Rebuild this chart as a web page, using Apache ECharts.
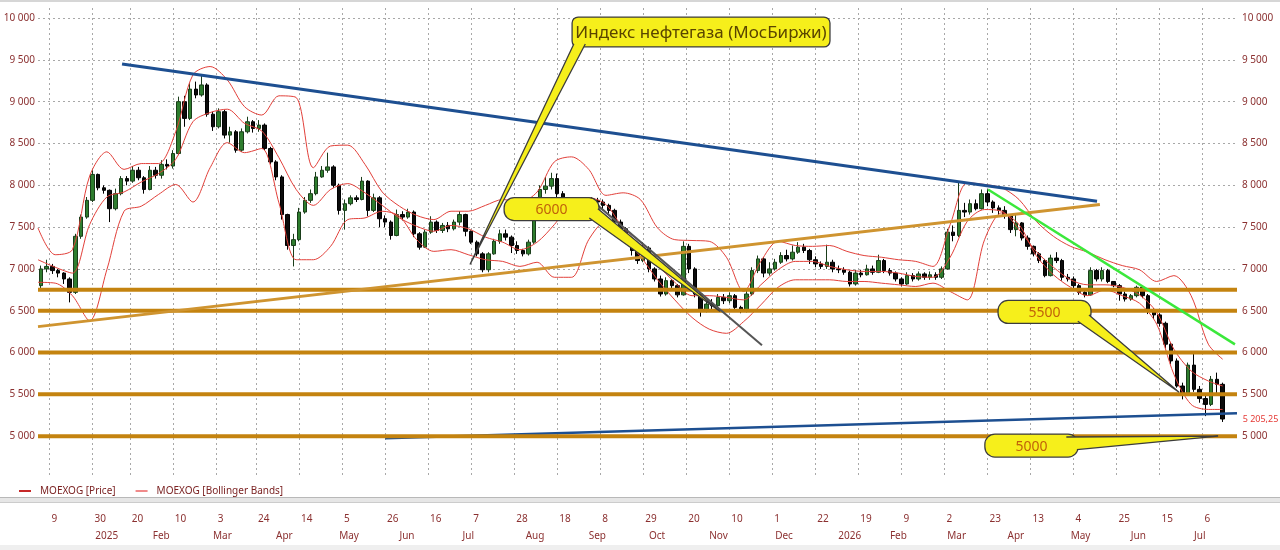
<!DOCTYPE html>
<html><head><meta charset="utf-8">
<script src="https://cdn.jsdelivr.net/npm/echarts@6/dist/echarts.min.js"></script>
<style>html,body{margin:0;padding:0;background:#fff}#c{width:1280px;height:550px}</style>
</head><body><div id="c"></div>
<script>
const FONT = '"Noto Sans", "Open Sans", sans-serif';
const LABEL_COLOR = '#8b3030';
const BAR_SLOTS = 419; // trading-day slots 0..418

// x-axis tick labels (trading-day slot index -> label)
const dayTickIdx = [4,19,32,47,62,76,91,106,121,136,151,166,181,196,211,226,241,256,271,286,301,316,331,346,361,376,391,406];
const dayTickLabels = ['9','30','20','10','3','24','14','5','26','16','7','28','18','8','29','20','10','1','22','19','9','2','23','13','4','25','15','6'];
const monthIdx = [20,40,61,83,105,126,148,170,192,213,234,257,279,297,317,338,360,381,403];
const monthLabels = ['2025','Feb','Mar','Apr','May','Jun','Jul','Aug','Sep','Oct','Nov','Dec','2026','Feb','Mar','Apr','May','Jun','Jul'];

// candles: [slot, open, close, low, high]
const candles = [
[1,6800,7000,6760,7040],[3,7000,7030,6960,7110],[5,7030,6980,6940,7060],[7,6980,6950,6900,7000],[9,6950,6880,6820,6960],[11,6880,6720,6600,6900],[13,6720,7390,6700,7420],[15,7390,7620,7360,7650],[17,7620,7820,7600,7860],[19,7820,8130,7800,8180],
[21,8130,7970,7940,8140],[23,7970,7940,7900,8000],[25,7940,7720,7560,7950],[27,7720,7900,7700,7960],[29,7900,8080,7880,8110],[31,8080,8050,8000,8110],[33,8050,8180,8030,8230],[35,8180,8090,8060,8220],[37,8090,7950,7900,8110],[39,7950,8180,7940,8230],
[41,8180,8120,8080,8220],[43,8120,8250,8080,8300],[45,8250,8230,8190,8310],[47,8230,8380,8200,8420],[49,8380,9000,8360,9060],[51,9000,8800,8700,9070],[53,8800,9150,8780,9220],[55,9150,9080,9040,9240],[57,9080,9200,9060,9320],[59,9200,8850,8820,9220],
[61,8850,8700,8650,8880],[63,8700,8880,8680,8920],[65,8880,8600,8560,8900],[67,8600,8640,8510,8700],[69,8640,8420,8390,8660],[71,8420,8640,8400,8680],[73,8640,8760,8620,8820],[75,8760,8680,8630,8780],[77,8680,8720,8640,8780],[79,8720,8440,8420,8740],
[81,8440,8280,8250,8460],[83,8280,8100,8060,8300],[85,8100,7650,7590,8120],[87,7650,7280,7230,7660],[89,7280,7350,7030,7420],[91,7350,7680,7330,7730],[93,7680,7820,7660,7860],[95,7820,7900,7790,7950],[97,7900,8100,7880,8160],[99,8100,8180,8090,8230],
[101,8180,8220,8150,8390],[103,8220,8000,7970,8240],[105,8000,7700,7650,8020],[107,7700,7780,7470,7830],[109,7780,7850,7760,7880],[111,7850,7830,7800,7880],[113,7830,8050,7820,8100],[115,8050,7700,7630,8060],[117,7700,7850,7680,7900],[119,7850,7600,7500,7870],
[121,7600,7560,7500,7640],[123,7560,7400,7350,7580],[125,7400,7650,7390,7710],[127,7650,7620,7580,7690],[129,7620,7680,7600,7720],[131,7680,7420,7380,7700],[133,7420,7260,7230,7440],[135,7260,7440,7250,7470],[137,7440,7560,7420,7630],[139,7560,7460,7430,7580],
[141,7460,7520,7430,7550],[143,7520,7480,7440,7560],[145,7480,7560,7460,7590],[147,7560,7650,7520,7690],[149,7650,7450,7390,7660],[151,7450,7320,7300,7460],[153,7320,7180,7150,7340],[155,7180,6990,6960,7200],[157,6990,7180,6960,7200],[159,7180,7330,7170,7360],
[161,7330,7420,7300,7470],[163,7420,7380,7340,7470],[165,7380,7280,7190,7400],[167,7280,7220,7180,7330],[169,7220,7180,7150,7240],[171,7180,7320,7160,7350],[173,7320,7600,7300,7620],[175,7600,7950,7580,8000],[177,7950,7990,7900,8100],[179,7990,8080,7950,8150],
[181,8080,7900,7860,8140],[183,7900,7830,7780,7930],[185,7830,7760,7700,7850],[187,7760,7700,7620,7790],[189,7700,7740,7650,7800],[191,7740,7780,7700,7830],[193,7780,7820,7760,7860],[195,7820,7800,7760,7850],[197,7800,7760,7700,7830],[199,7760,7700,7660,7780],
[201,7700,7560,7520,7720],[203,7560,7480,7440,7590],[205,7480,7340,7300,7500],[207,7340,7220,7160,7360],[209,7220,7100,7060,7240],[211,7100,7250,7080,7320],[213,7250,7000,6960,7270],[215,7000,6880,6850,7020],[217,6880,6700,6670,6920],[219,6700,6860,6680,6900],
[221,6860,6800,6770,6880],[223,6800,6690,6660,6820],[225,6690,7270,6680,7330],[227,7270,7000,6950,7300],[229,7000,6700,6660,7020],[231,6700,6500,6430,6720],[233,6500,6580,6480,6620],[235,6580,6560,6520,6640],[237,6560,6660,6540,6700],[239,6660,6620,6580,6700],
[241,6620,6680,6590,6720],[243,6680,6540,6500,6700],[245,6540,6500,6470,6560],[247,6500,6700,6480,6740],[249,6700,6980,6680,7020],[251,6980,7120,6950,7160],[253,7120,6950,6900,7140],[255,6950,7000,6920,7080],[257,7000,7080,6980,7120],[259,7080,7160,7060,7200],
[261,7160,7120,7090,7230],[263,7120,7200,7100,7280],[265,7200,7260,7180,7320],[267,7260,7220,7190,7300],[269,7220,7110,7060,7240],[271,7110,7060,7020,7150],[273,7060,7030,7000,7090],[275,7030,7080,7000,7290],[277,7080,7000,6960,7110],[279,7000,6990,6950,7040],
[281,6990,6960,6930,7020],[283,6960,6820,6790,6980],[285,6820,6950,6800,6990],[287,6950,6930,6900,6990],[289,6930,7000,6920,7050],[291,7000,6960,6930,7040],[293,6960,7100,6950,7170],[295,7100,6980,6950,7120],[297,6980,6950,6920,7010],[299,6950,6880,6850,6970],
[301,6880,6820,6790,6900],[303,6820,6920,6810,6960],[305,6920,6880,6850,6950],[307,6880,6940,6860,6970],[309,6940,6900,6870,6960],[311,6900,6930,6870,6970],[313,6930,6900,6870,6960],[315,6900,7000,6880,7030],[317,7000,7440,6990,7480],[319,7440,7400,7330,7520],
[321,7400,7700,7380,8030],[323,7700,7680,7620,7790],[325,7680,7780,7650,7830],[327,7780,7720,7700,7830],[329,7720,7900,7710,7950],[331,7900,7800,7750,7950],[333,7800,7730,7670,7820],[335,7730,7700,7640,7760],[337,7700,7640,7600,7750],[339,7640,7470,7430,7650],
[341,7470,7550,7390,7660],[343,7550,7370,7340,7560],[345,7370,7270,7230,7400],[347,7270,7180,7150,7280],[349,7180,7100,7070,7200],[351,7100,6920,6900,7120],[353,6920,7130,6910,7170],[355,7130,7100,7070,7200],[357,7100,6900,6860,7120],[359,6900,6880,6850,6940],
[361,6880,6800,6760,6910],[363,6800,6720,6690,6820],[365,6720,6690,6660,6750],[367,6690,6980,6680,7020],[369,6980,6880,6850,7000],[371,6880,6980,6850,7020],[373,6980,6850,6830,7000],[375,6850,6800,6780,6850],[377,6800,6700,6620,6820],[379,6700,6640,6610,6730],
[381,6640,6680,6620,6700],[383,6680,6780,6660,6800],[385,6780,6680,6650,6800],[387,6680,6500,6460,6700],[389,6500,6450,6400,6530],[391,6450,6350,6310,6470],[393,6350,6100,6050,6370],[395,6100,5900,5860,6120],[397,5900,5600,5580,5930],[399,5600,5500,5440,5640],
[401,5500,5850,5480,5880],[403,5850,5560,5530,6000],[405,5560,5450,5400,5600],[407,5450,5380,5240,5500],[409,5380,5680,5360,5720],[411,5680,5620,5500,5760],[413,5620,5205.25,5170,5640]
];
const lastPrice = 5205.25;

// Bollinger bands sampled every 6 slots
const bandX = [0,6,12,18,24,30,36,42,48,54,60,66,72,78,84,90,96,102,108,114,120,126,132,138,144,150,156,162,168,174,180,186,192,198,204,210,216,222,228,234,240,246,252,258,264,270,276,282,288,294,300,306,312,318,324,330,336,342,348,354,360,366,372,378,384,390,396,402,408,413];
const bbUpper = [7490,7170,7230,8110,8400,8190,8260,8260,8640,9320, 9420,9260,8940,8840,9070,9050,8210,8470,8480,8250, 7920,7750,7640,7590,7690,7690,7760,7830,7800,7920, 8280,8340,8190,7880,7910,7830,7490,7350,7340,7330, 7140,6730,7090,7330,7280,7270,7280,7210,7160,7140, 7110,7090,7030,7530,8030,8010,7970,7830,7570,7390, 7270,7200,7110,7040,6990,6850,6920,6680,6100,5920];
const bbMiddle = [7110,7020,6950,7530,7860,7920,8040,8140,8310,8760, 8870,8910,8740,8650,8330,7950,7760,7950,8020,7910, 7760,7610,7510,7450,7520,7480,7380,7320,7230,7320, 7530,7780,7850,7770,7490,7320,7050,6840,6680,6680, 6660,6630,6810,6990,7090,7090,7030,6990,6970,6970, 6950,6910,6900,7140,7570,7710,7690,7470,7210,7020, 6870,6810,6810,6780,6690,6480,6040,5780,5660,5600];
const bbLower = [6840,6830,6680,6380,6990,7690,7750,7890,8010,7800, 8210,8510,8390,8440,7790,7110,7110,7270,7590,7610, 7690,7630,7350,7210,7230,7170,7110,7090,7030,7080, 6900,6900,7350,7570,7370,7150,6870,6630,6420,6280, 6230,6370,6570,6780,6870,6870,6870,6850,6850,6830, 6810,6790,6830,6730,6630,7350,7670,7530,7160,6930, 6780,6680,6750,6680,6590,6340,5740,5380,5320,5320];

// horizontal support levels
const levels = [6750, 6500, 6000, 5500, 5000];
// trend lines [[slot, value], [slot, value]]
const trendBlueTop = [[29.3, 9450], [369.2, 7810]];
const trendBlueBottom = [[121, 4976], [418, 5274]];
const trendOrange = [[0, 6310], [370.2, 7770]];
const trendGreen = [[331.2, 7950], [417.3, 6098]];
const trendGray = [[195.2, 7757], [252.4, 6086]];

// callouts: box [x1,y1,x2,y2], wedge [baseA, baseB, tip]
const callouts = [
  {text: 'Индекс нефтегаза (МосБиржи)', box: [186.2, 10012, 276.1, 9654], wedge: [[186.8, 9690], [190.8, 9690], [150.6, 7053]], size: 17, color: '#5a4500', r: 6},
  {text: '6000', box: [162.5, 7852, 195.6, 7578], wedge: [[192.2, 7610], [195.2, 7720], [237.8, 6492]], size: 14, color: '#c0620a', r: 10},
  {text: '5500', box: [334.7, 6623, 367.1, 6349], wedge: [[362.5, 6375], [366.4, 6450], [397.8, 5525]], size: 14, color: '#c0620a', r: 10},
  {text: '5000', box: [330.1, 5024, 362.6, 4750], wedge: [[358.5, 4990], [362.2, 4840], [411.4, 5000]], size: 14, color: '#c0620a', r: 10}
];

const dayMap = {}; dayTickIdx.forEach((k, i) => dayMap[k] = dayTickLabels[i]);
const monMap = {}; monthIdx.forEach((k, i) => monMap[k] = monthLabels[i]);
const slotCats = Array.from({length: BAR_SLOTS}, (_, i) => String(i));
const fmtThousands = v => String(Math.round(v)).replace(/\B(?=(\d{3})+(?!\d))/g, ' ');
const YELLOW = '#f6ef1b', EDGE = '#3c3c3c';

function bandSeries(arr) {
  return {name: 'MOEXOG [Bollinger Bands]', type: 'line', xAxisIndex: 0, yAxisIndex: 0,
    data: bandX.map((x, i) => [x, arr[i]]), showSymbol: false, symbol: 'none', smooth: 0.3,
    lineStyle: {color: '#e2403a', width: 1}, itemStyle: {color: '#e2403a'}, z: 3, silent: true};
}
function segSeries(pts, color, width, z) {
  return {type: 'line', xAxisIndex: 0, yAxisIndex: 0, data: pts, symbol: 'none', showSymbol: false,
    lineStyle: {color: color, width: width}, z: z, silent: true};
}

const series = [
  {name: 'MOEXOG [Price]', type: 'candlestick', xAxisIndex: 0, yAxisIndex: 0, data: candles,
    encode: {x: 0, y: [1, 2, 3, 4]}, barWidth: 4, z: 2,
    itemStyle: {color: '#2e7d2e', color0: '#0c0c0c', borderColor: '#1a3d1a', borderColor0: '#000', borderWidth: 1},
    markPoint: {symbol: 'circle', symbolSize: 0, silent: true,
      data: [{coord: [413, lastPrice], label: {show: true, position: 'right', distance: 20,
        formatter: '5 205,25', color: '#e53935', fontSize: 9, fontFamily: FONT}}]}},
  bandSeries(bbUpper), bandSeries(bbMiddle), bandSeries(bbLower),
  segSeries(trendBlueBottom, '#1d4f91', 2.5, 4),
  ...levels.map(v => segSeries([[0, v], [418, v]], '#c4830f', 4, 5)),
  segSeries(trendOrange, '#cf9430', 3, 5),
  segSeries(trendBlueTop, '#1d4f91', 3, 5),
  segSeries(trendGreen, '#3be83b', 2.5, 5),
  segSeries(trendGray, '#555555', 2, 5),
  {type: 'custom', xAxisIndex: 0, yAxisIndex: 0, z: 8, silent: true,
    data: callouts.map((c, i) => [c.box[0], c.box[1], i]),
    renderItem: function (params, api) {
      const c = callouts[params.dataIndex];
      const p1 = api.coord([c.box[0], c.box[1]]);
      const p2 = api.coord([c.box[2], c.box[3]]);
      const x = Math.min(p1[0], p2[0]), y = Math.min(p1[1], p2[1]);
      const w = Math.abs(p2[0] - p1[0]), h = Math.abs(p2[1] - p1[1]);
      const wp = c.wedge.map(pt => api.coord(pt));
      return {type: 'group', children: [
        {type: 'rect', shape: {x: x, y: y, width: w, height: h, r: c.r}, style: {fill: YELLOW, stroke: EDGE, lineWidth: 1.3}},
        {type: 'polygon', shape: {points: wp}, style: {fill: YELLOW, stroke: 'none'}},
        {type: 'polyline', shape: {points: [wp[0], wp[2], wp[1]]}, style: {stroke: EDGE, lineWidth: 1.3, fill: 'none'}},
        {type: 'text', style: {text: c.text, x: x + w / 2, y: y + h / 2 + 1, fill: c.color,
          font: c.size + 'px ' + FONT, textAlign: 'center', textVerticalAlign: 'middle', align: 'center', verticalAlign: 'middle'}}
      ]};
    }}
];

const yAxisCommon = {type: 'value', min: 4500, max: 10120, interval: 500, axisLine: {show: false}, axisTick: {show: false}};
const option = {
  animation: false,
  backgroundColor: '#ffffff',
  textStyle: {fontFamily: FONT},
  grid: {left: 38, right: 43, top: 8, bottom: 72, containLabel: false},
  legend: {left: 14, top: 481, itemWidth: 12, itemHeight: 2, itemGap: 20, selectedMode: false,
    textStyle: {color: '#7b2222', fontSize: 10, fontFamily: FONT, padding: [0, 0, 0, 4]},
    data: [
      {name: 'MOEXOG [Price]', icon: 'rect', itemStyle: {color: '#c62828', borderWidth: 0}},
      {name: 'MOEXOG [Bollinger Bands]', icon: 'rect', itemStyle: {color: '#f08a8a', borderWidth: 0}, lineStyle: {color: '#f08a8a', width: 1.5}}
    ]},
  xAxis: [
    {type: 'value', min: 0, max: BAR_SLOTS - 1, show: false},
    {type: 'category', data: slotCats, boundaryGap: false, position: 'bottom',
      axisLine: {show: false}, axisTick: {show: false},
      axisLabel: {interval: (i) => dayMap[i] !== undefined, formatter: (v, i) => dayMap[i] || '',
        color: LABEL_COLOR, fontSize: 10, margin: 36, align: 'left', padding: [0, 0, 0, 2]},
      splitLine: {show: true, interval: (i) => dayMap[i] !== undefined, lineStyle: {color: '#a8a8a8', type: [2, 3], width: 1}}},
    {type: 'category', data: slotCats, boundaryGap: false, position: 'bottom',
      axisLine: {show: false}, axisTick: {show: false}, splitLine: {show: false},
      axisLabel: {interval: (i) => monMap[i] !== undefined, formatter: (v, i) => monMap[i] || '',
        color: LABEL_COLOR, fontSize: 10, margin: 53, align: 'left'}}
  ],
  yAxis: [
    Object.assign({}, yAxisCommon, {position: 'left',
      axisLabel: {color: LABEL_COLOR, fontSize: 10, margin: 3, showMinLabel: false, showMaxLabel: false, formatter: fmtThousands},
      splitLine: {show: true, showMinLine: false, showMaxLine: false, lineStyle: {color: '#a8a8a8', type: [2, 3], width: 1}}}),
    Object.assign({}, yAxisCommon, {position: 'right',
      axisLabel: {color: LABEL_COLOR, fontSize: 10, margin: 5, showMinLabel: false, showMaxLabel: false, formatter: fmtThousands},
      splitLine: {show: false}})
  ],
  graphic: [
    {type: 'rect', silent: true, shape: {x: 0, y: 0, width: 1280, height: 2}, style: {fill: '#d6d6d6'}},
    {type: 'rect', silent: true, shape: {x: 0, y: 497, width: 1280, height: 6}, style: {fill: '#e6e6e6'}},
    {type: 'line', silent: true, shape: {x1: 0, y1: 497.5, x2: 1280, y2: 497.5}, style: {stroke: '#b8b8b8', lineWidth: 1}},
    {type: 'line', silent: true, shape: {x1: 0, y1: 502.5, x2: 1280, y2: 502.5}, style: {stroke: '#cccccc', lineWidth: 1}},
    {type: 'rect', silent: true, shape: {x: 0, y: 545, width: 1280, height: 5}, style: {fill: '#efefef'}}
  ],
  series: series
};
const chart = echarts.init(document.getElementById('c'), null, {renderer: 'canvas'});
chart.setOption(option);
</script></body></html>
